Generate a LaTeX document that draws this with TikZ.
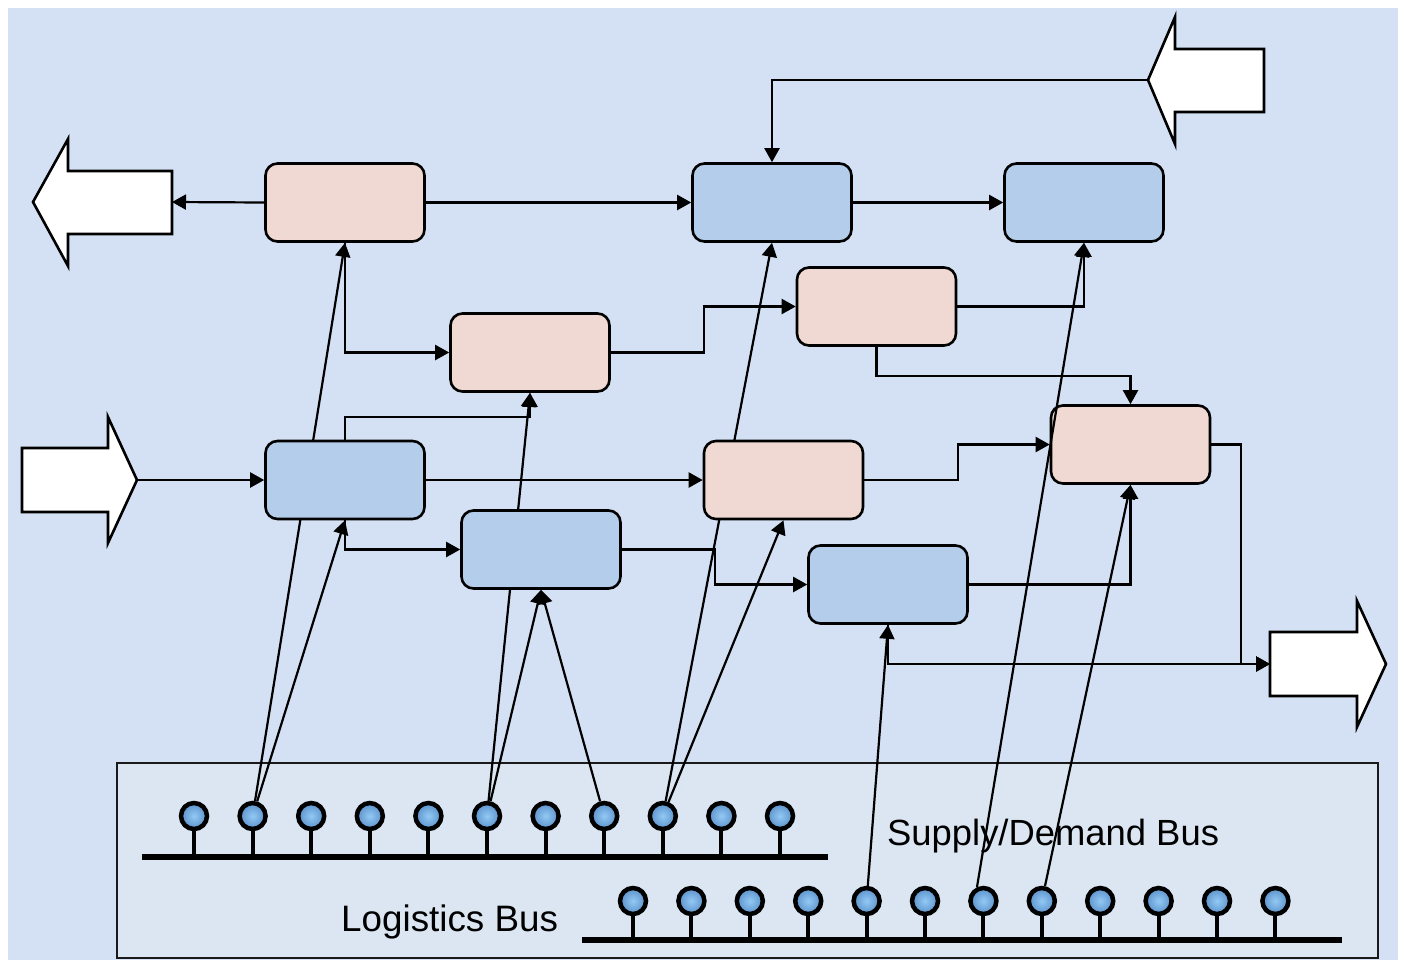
\documentclass[tikz,border=0pt]{standalone}
\usepackage{fontspec}
\setmainfont{Liberation Sans}
\usetikzlibrary{arrows.meta,calc}
\definecolor{bgblue}{HTML}{D4E1F4}
\definecolor{busfill}{HTML}{DCE6F2}
\definecolor{pinkfill}{HTML}{F0D9D3}
\definecolor{bluefill}{HTML}{B3CDEB}
\definecolor{pinin}{HTML}{92C9F4}
\definecolor{pinout}{HTML}{5B91CA}
\pgfdeclarelayer{bg}
\pgfdeclarelayer{lines}
\pgfsetlayers{bg,lines,main}
\begin{document}
\begin{tikzpicture}[x=1pt,y=-1pt,
  box/.style={draw, line width=2.6pt, rounded corners=12pt, minimum width=159pt, minimum height=78pt, inner sep=0pt},
  pbox/.style={box, fill=pinkfill},
  bbox/.style={box, fill=bluefill},
  conn/.style={line width=2.2pt, -{Triangle[length=14pt,width=15pt]}},
  bigarrow/.style={draw, fill=white, line width=2.6pt, line join=miter},
  pinball/.style={circle, draw, line width=4.5pt, minimum size=26pt, inner sep=0pt, inner color=pinin, outer color=pinout},
  stem/.style={line width=4pt},
  bus/.style={line width=6.5pt},
  lbl/.style={inner sep=0pt, anchor=base west}
]
\useasboundingbox (0,0) rectangle (1404,962);
\begin{pgfonlayer}{bg}
  \fill[bgblue] (8,8) rectangle (1398,960);
  \draw[fill=busfill, line width=2pt, draw=black!90] (117,763) rectangle (1378,958);
\end{pgfonlayer}

% process boxes
\node[pbox] (P1) at (345,202.5) {};
\node[bbox] (B1) at (772,202.5) {};
\node[bbox] (B2) at (1084,202.5) {};
\node[pbox] (P2) at (530,352.5) {};
\node[pbox] (P3) at (876.5,306.5) {};
\node[bbox] (B3) at (345,480) {};
\node[pbox] (P4) at (783.5,480) {};
\node[pbox] (P5) at (1130.5,444.5) {};
\node[bbox] (B4) at (541,549.5) {};
\node[bbox] (B5) at (888,584.5) {};

% big arrows
\draw[bigarrow] (33,202) -- (68,139) -- (68,171) -- (172,171) -- (172,234) -- (68,234) -- (68,266) -- cycle;
\coordinate (outL) at (172,202);
\draw[bigarrow] (1148,80) -- (1175,17) -- (1175,49) -- (1264,49) -- (1264,112) -- (1175,112) -- (1175,144) -- cycle;
\coordinate (inTR) at (1148,80);
\draw[bigarrow] (22,448) -- (108,448) -- (108,417) -- (137,480) -- (108,543) -- (108,512) -- (22,512) -- cycle;
\coordinate (inL) at (137,480);
\draw[bigarrow] (1270,632) -- (1357,632) -- (1357,601) -- (1386,664) -- (1357,727) -- (1357,696) -- (1270,696) -- cycle;
\coordinate (outR) at (1270,664);

% buses
\draw[bus] (142,857) -- (828,857);
\draw[bus] (582,940) -- (1342,940);
\foreach \i in {1,...,11} {
  \node[pinball] (t\i) at ({194+58.6*(\i-1)},816) {};
  \draw[stem] (t\i.south) -- ++(0,27);
}
\foreach \i in {1,...,12} {
  \node[pinball] (b\i) at ({633+58.4*(\i-1)},901) {};
  \draw[stem] (b\i.south) -- ++(0,27);
}

\node[lbl, font=\fontsize{36.4}{40}\selectfont] (sdb) at (887,845) {Supply/Demand Bus};
\node[lbl, font=\fontsize{36.8}{40}\selectfont] (lgb) at (341,931) {Logistics Bus};

\begin{pgfonlayer}{lines}
  \draw[conn] (P1.west) -- (outL);
  \draw[conn] (P1.east) -- (B1.west);
  \draw[conn] (B1.east) -- (B2.west);
  \draw[conn] (inTR) -| (B1.north);
  \draw[conn] (inL) -- (B3.west);
  \draw[conn] (P1.south) |- (P2.west);
  \draw[conn] (B3.north) -- ++(0,-23) -| (P2.south);
  \draw[conn] (B3.east) -- (P4.west);
  \draw[conn] (B3.south) |- (B4.west);
  \draw[conn] (P2.east) -- ++(93,0) |- (P3.west);
  \draw[conn] (P3.east) -| (B2.south);
  \draw[conn] (P3.south) -- ++(0,29) -| (P5.north);
  \draw[conn] (P4.east) -- ++(94,0) |- (P5.west);
  \draw[conn] (B4.east) -- ++(93,0) |- (B5.west);
  \draw[conn] (B5.east) -| (P5.south);
  \draw[conn] (P5.east) -- ++(30,0) |- (outR);
  \draw[conn] (B5.south) |- (outR);
  % bus links
  \draw[conn] (t2) -- (P1.south);
  \draw[conn] (t2) -- (B3.south);
  \draw[conn] (t6) -- (P2.south);
  \draw[conn] (t6) -- (B4.south);
  \draw[conn] (t8) -- (B4.south);
  \draw[conn] (t9) -- (B1.south);
  \draw[conn] (t9) -- (P4.south);
  \draw[conn] (b5) -- (B5.south);
  \draw[conn] (b8) -- (P5.south);
\end{pgfonlayer}
\draw[conn] (b7.115) -- (B2.south);
\end{tikzpicture}
\end{document}
